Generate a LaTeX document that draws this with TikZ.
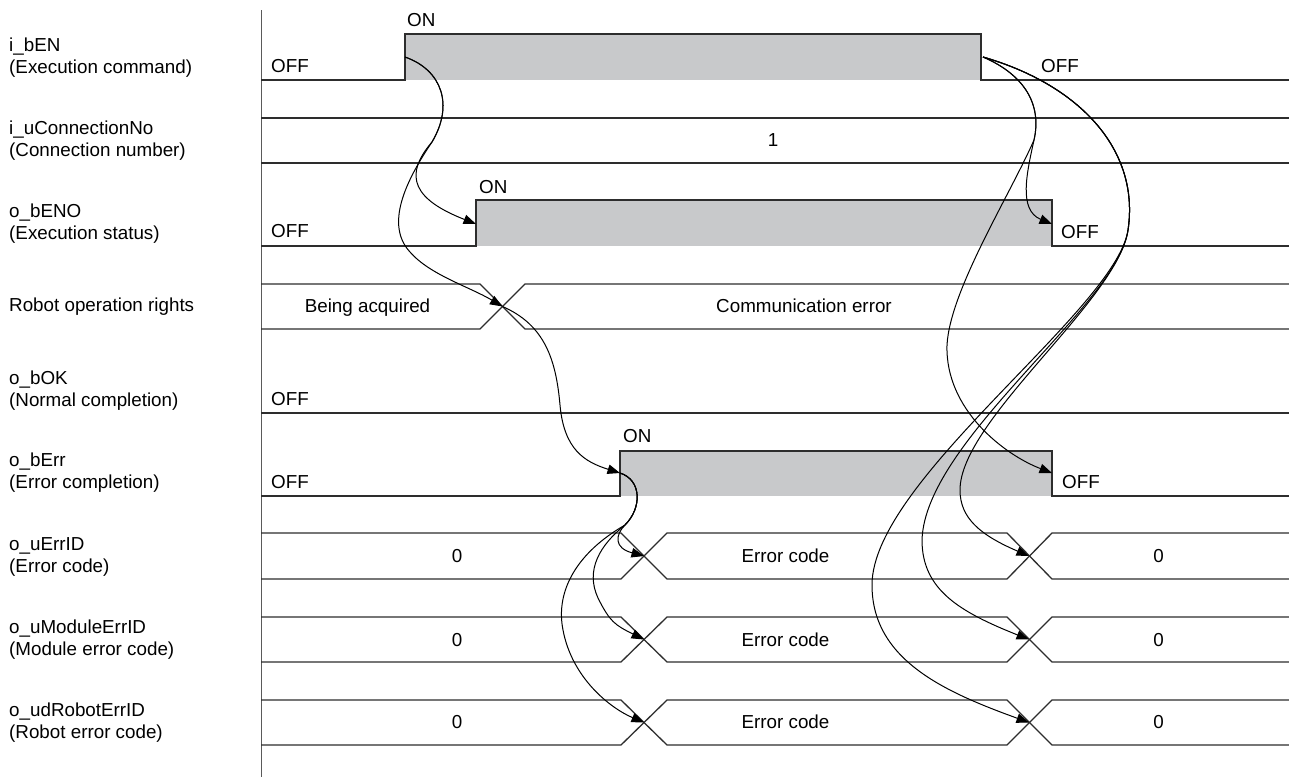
\documentclass[tikz,border=0pt]{standalone}
\usepackage{fontspec}
\setmainfont{Liberation Sans}
\usetikzlibrary{arrows.meta}
\definecolor{sigc}{RGB}{45,45,45}
\definecolor{hic}{RGB}{200,201,203}
\definecolor{axc}{RGB}{90,90,90}
\begin{document}
\begin{tikzpicture}[x=1pt,y=-1pt,
  sigline/.style={draw=sigc,line width=1.3pt,line join=miter},
  hifill/.style={fill=hic,draw=none},
  cur/.style={draw=black,line width=1pt,-{Triangle[length=12.5pt,width=9.5pt]}},
  lbl/.style={anchor=base west,inner sep=0pt,font=\fontsize{18.8}{22}\selectfont},
  val/.style={anchor=base,inner sep=0pt,font=\fontsize{18.8}{22}\selectfont},
  sval/.style={anchor=base west,inner sep=0pt,font=\fontsize{18.8}{22}\selectfont},
]
\useasboundingbox (0,0) rectangle (1289,777);
\fill[white] (0,0) rectangle (1289,777);

% axis
\draw[draw=axc,line width=1pt] (261,10) -- (261,777);

% left labels
\node[lbl] (n1a) at (9,51) {i\_bEN};
\node[lbl] (n1b) at (9,73) {(Execution command)};
\node[lbl] (n2a) at (9,134) {i\_uConnectionNo};
\node[lbl] (n2b) at (9,156) {(Connection number)};
\node[lbl] (n3a) at (9,217) {o\_bENO};
\node[lbl] (n3b) at (9,239) {(Execution status)};
\node[lbl] (n4a) at (9,311) {Robot operation rights};
\node[lbl] (n5a) at (9,384) {o\_bOK};
\node[lbl] (n5b) at (9,406) {(Normal completion)};
\node[lbl] (n6a) at (9,466) {o\_bErr};
\node[lbl] (n6b) at (9,488) {(Error completion)};
\node[lbl] (n7a) at (9,550) {o\_uErrID};
\node[lbl] (n7b) at (9,572) {(Error code)};
\node[lbl] (n8a) at (9,633) {o\_uModuleErrID};
\node[lbl] (n8b) at (9,655) {(Module error code)};
\node[lbl] (n9a) at (9,716) {o\_udRobotErrID};
\node[lbl] (n9b) at (9,738) {(Robot error code)};

% row 1 i_bEN
\fill[hifill] (405,34) rectangle (981,80);
\draw[sigline] (261,80) -- (405,80) -- (405,34) -- (981,34) -- (981,80) -- (1289,80);
\node[sval] (t1on) at (407,26) {ON};
\node[sval] (t1off) at (271,72) {OFF};
\node[sval] (t1off2) at (1041,72) {OFF};

% row 2 connection number
\draw[sigline] (261,118) -- (1289,118);
\draw[sigline] (261,163) -- (1289,163);
\node[val] (t2v) at (773,146) {1};

% row 3 o_bENO
\fill[hifill] (476,200) rectangle (1052,246);
\draw[sigline] (261,246) -- (476,246) -- (476,200) -- (1052,200) -- (1052,246) -- (1289,246);
\node[sval] (t3on) at (479,193) {ON};
\node[sval] (t3off) at (271,237) {OFF};
\node[sval] (t3off2) at (1061,238) {OFF};

% row 4 robot operation rights
\draw[sigline] (261,284) -- (480,284) -- (525,329) -- (1289,329);
\draw[sigline] (261,329) -- (480,329) -- (525,284) -- (1289,284);
\node[val] (t4a) at (367.5,312) {Being acquired};
\node[val] (t4b) at (804,312) {Communication error};

% row 5 o_bOK
\draw[sigline] (261,413) -- (1289,413);
\node[sval] (t5off) at (271,405) {OFF};

% row 6 o_bErr
\fill[hifill] (620,451) rectangle (1052,496);
\draw[sigline] (261,496) -- (620,496) -- (620,451) -- (1052,451) -- (1052,496) -- (1289,496);
\node[sval] (t6on) at (623,442) {ON};
\node[sval] (t6off) at (271,488) {OFF};
\node[sval] (t6off2) at (1062,488) {OFF};

% rows 7-9 data
\foreach \t/\b/\base/\nm in {533/579/562.5/r7, 617/662/646/r8, 700/745/728.5/r9}{
  \draw[sigline] (261,\t) -- (621,\t) -- (667,\b) -- (1007,\b) -- (1052,\t) -- (1289,\t);
  \draw[sigline] (261,\b) -- (621,\b) -- (667,\t) -- (1007,\t) -- (1052,\b) -- (1289,\b);
  \node[val] (\nm a) at (457,\base) {0};
  \node[val] (\nm b) at (785.5,\base) {Error code};
  \node[val] (\nm c) at (1158.5,\base) {0};
}

% event points
\coordinate (ENr) at (405,57);
\coordinate (ENf) at (983,57);
\coordinate (ENOr) at (476,224);
\coordinate (ENOf) at (1052,224);
\coordinate (RRx) at (502.5,306.5);
\coordinate (ERr) at (620,473);
\coordinate (ERf) at (1052,473);
\coordinate (X7a) at (644,556);
\coordinate (X8a) at (644,639.5);
\coordinate (X9a) at (644,722.5);
\coordinate (X7b) at (1029,556);
\coordinate (X8b) at (1029,639.5);
\coordinate (X9b) at (1029,722.5);

% curves from i_bEN rise
\draw[cur] (ENr) .. controls (442,70) and (454,105) .. (432,142)
  .. controls (402,177) and (415,200) .. (ENOr);
\draw[cur] (ENr) .. controls (442,70) and (454,105) .. (432,142)
  .. controls (405,182) and (385,225) .. (410,252)
  .. controls (430,275) and (470,287) .. (RRx);
% robot rights -> o_bErr rise
\draw[cur] (RRx) .. controls (545,325) and (556,360) .. (560,405)
  .. controls (564,450) and (585,462) .. (ERr);
% o_bErr rise -> error codes
\draw[cur] (ERr) .. controls (642,480) and (642,508) .. (625,525)
  .. controls (615,535) and (614,548) .. (X7a);
\draw[cur] (ERr) .. controls (642,480) and (642,508) .. (625,525)
  .. controls (600,545) and (585,570) .. (598,598)
  .. controls (610,622) and (615,625) .. (X8a);
\draw[cur] (ERr) .. controls (642,480) and (642,508) .. (625,525)
  .. controls (578,552) and (555,590) .. (563,630)
  .. controls (572,678) and (610,708) .. (X9a);

% curves from i_bEN fall
\draw[cur] (ENf) .. controls (1025,75) and (1042,105) .. (1034,140)
  .. controls (1027,172) and (1018,210) .. (ENOf);
\draw[cur] (ENf) .. controls (1025,75) and (1042,105) .. (1034,140)
  .. controls (1010,195) and (950,290) .. (947,345)
  .. controls (945,410) and (1005,455) .. (ERf);
\draw[cur] (ENf) .. controls (1080,85) and (1140,150) .. (1128,230)
  .. controls (1118,300) and (960,420) .. (960,490)
  .. controls (960,518) and (980,535) .. (X7b);
\draw[cur] (ENf) .. controls (1080,85) and (1140,150) .. (1128,230)
  .. controls (1118,305) and (925,440) .. (922,540)
  .. controls (922,590) and (960,612) .. (X8b);
\draw[cur] (ENf) .. controls (1080,85) and (1140,150) .. (1128,230)
  .. controls (1116,310) and (872,480) .. (872,585)
  .. controls (872,660) and (945,692) .. (X9b);
\end{tikzpicture}
\end{document}
